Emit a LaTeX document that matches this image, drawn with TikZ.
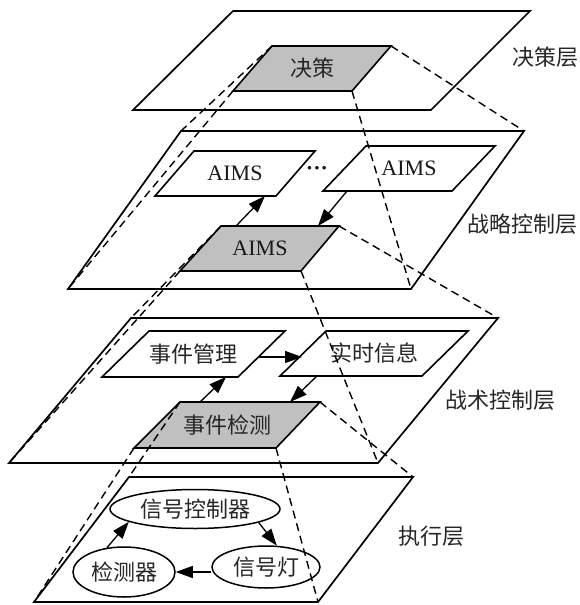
\documentclass[tikz,border=0pt]{standalone}
\usepackage{fontspec}
\setmainfont{Liberation Serif}
\newfontfamily\cjk{Noto Sans CJK SC}
\usetikzlibrary{arrows.meta,shapes.geometric}
\definecolor{boxgray}{RGB}{192,192,192}
\begin{document}
\begin{tikzpicture}[x=1pt,y=-1pt,
  plane/.style={line width=1.7pt, line join=miter},
  pbox/.style={line width=1.6pt, fill=white},
  gbox/.style={line width=1.6pt, fill=boxgray},
  proj/.style={dash pattern=on 8pt off 5pt, line width=1.4pt},
  arr/.style={line width=1.3pt, -{Triangle[length=17pt,width=12pt]}},
  lbl/.style={font=\cjk\fontsize{22}{22}\selectfont, text=black!85, inner sep=0pt},
  ltx/.style={font=\fontsize{22}{22}\selectfont, text=black!90, inner sep=0pt},
  ell/.style={ellipse, draw, line width=1.5pt, inner sep=0pt, font=\cjk\fontsize{22}{22}\selectfont, text=black!85}
]
\useasboundingbox (0,0) rectangle (579,605);

% ---------- planes ----------
\coordinate (p1tl) at (233,11);  \coordinate (p1tr) at (530,11);
\coordinate (p1br) at (431,110); \coordinate (p1bl) at (133,110);
\coordinate (p2tl) at (181,131); \coordinate (p2tr) at (524,131);
\coordinate (p2br) at (411,289); \coordinate (p2bl) at (68,289);
\coordinate (p3tl) at (131,318); \coordinate (p3tr) at (498,318);
\coordinate (p3br) at (378,463); \coordinate (p3bl) at (9,463);
\coordinate (p4tl) at (129,477); \coordinate (p4tr) at (413,477);
\coordinate (p4br) at (318,602); \coordinate (p4bl) at (34,602);
\draw[plane] (p1tl) -- (p1tr) -- (p1br) -- (p1bl) -- cycle;
\draw[plane] (p2tl) -- (p2tr) -- (p2br) -- (p2bl) -- cycle;
\draw[plane] (p3tl) -- (p3tr) -- (p3br) -- (p3bl) -- cycle;
\draw[plane] (p4tl) -- (p4tr) -- (p4br) -- (p4bl) -- cycle;

% ---------- boxes ----------
% decision
\coordinate (dtl) at (272,46);  \coordinate (dtr) at (391,46);
\coordinate (dbr) at (352,91);  \coordinate (dbl) at (233,91);
\draw[gbox] (dtl) -- (dtr) -- (dbr) -- (dbl) -- cycle;
% strategic
\coordinate (a1tl) at (194,151); \coordinate (a1tr) at (315,151);
\coordinate (a1br) at (276,196); \coordinate (a1bl) at (155,196);
\draw[pbox] (a1tl) -- (a1tr) -- (a1br) -- (a1bl) -- cycle;
\coordinate (a2tl) at (366,146); \coordinate (a2tr) at (495,146);
\coordinate (a2br) at (452,191); \coordinate (a2bl) at (323,191);
\draw[pbox] (a2tl) -- (a2tr) -- (a2br) -- (a2bl) -- cycle;
\coordinate (agtl) at (221,226); \coordinate (agtr) at (339,226);
\coordinate (agbr) at (301,271); \coordinate (agbl) at (180,271);
\draw[gbox] (agtl) -- (agtr) -- (agbr) -- (agbl) -- cycle;
% tactical
\coordinate (mtl) at (149,331); \coordinate (mtr) at (285,331);
\coordinate (mbr) at (238,377); \coordinate (mbl) at (102,377);
\draw[pbox] (mtl) -- (mtr) -- (mbr) -- (mbl) -- cycle;
\coordinate (rtl) at (326,331); \coordinate (rtr) at (468,331);
\coordinate (rbr) at (422,376); \coordinate (rbl) at (280,376);
\draw[pbox] (rtl) -- (rtr) -- (rbr) -- (rbl) -- cycle;
\coordinate (etl) at (180,402); \coordinate (etr) at (320,402);
\coordinate (ebr) at (276,448); \coordinate (ebl) at (134,448);
\draw[gbox] (etl) -- (etr) -- (ebr) -- (ebl) -- cycle;

% ---------- texts ----------
\node[lbl] (tdec) at (312,68.5) {决策};
\node[ltx] (ta1) at (235,173.5) {AIMS};
\node[ltx] (ta2) at (409,168.5) {AIMS};
\node[ltx] (tag) at (260,248.5) {AIMS};
\node[ltx] (tdots) at (317,171) {\textbf{···}};
\node[lbl] (tm) at (193.5,354) {事件管理};
\node[lbl] (tr) at (374,353.5) {实时信息};
\node[lbl] (te) at (227.5,425) {事件检测};

% ---------- ellipses ----------
\node[ell, minimum width=170pt, minimum height=39pt] (ctrl) at (195,509) {信号控制器};
\node[ell, minimum width=102pt, minimum height=50pt] (det) at (124,572) {检测器};
\node[ell, minimum width=108pt, minimum height=42pt] (lamp) at (266,567) {信号灯};

% ---------- projection lines ----------
\draw[proj] (dtl) -- (p2tl);
\draw[proj] (dtr) -- (p2tr);
\draw[proj] (dbr) -- (p2br);
\draw[proj] (dbl) -- (p2bl);
\draw[proj] (agtl) -- (p3tl);
\draw[proj] (agtr) -- (p3tr);
\draw[proj] (agbr) -- (p3br);
\draw[proj] (agbl) -- (p3bl);
\draw[proj] (etl) -- (p4tl);
\draw[proj] (etr) -- (p4tr);
\draw[proj] (ebr) -- (p4br);
\draw[proj] (ebl) -- (p4bl);

% ---------- arrows ----------
\coordinate (s1) at (236,226); \coordinate (e1) at (265,196);
\coordinate (s2) at (347,191); \coordinate (e2) at (318,226);
\coordinate (s3) at (259,357); \coordinate (e3) at (302,357);
\coordinate (s4) at (200,402); \coordinate (e4) at (226,377);
\coordinate (s5) at (317,376); \coordinate (e5) at (290,402);
\draw[arr] (s1) -- (e1);
\draw[arr] (s2) -- (e2);
\draw[arr] (s3) -- (e3);
\draw[arr] (s4) -- (e4);
\draw[arr] (s5) -- (e5);
\draw[arr] (det.125) -- (ctrl.191);
\draw[arr] (ctrl.348) -- (lamp.63);
\draw[arr] (det.east -| lamp.west) -- (det.east);

% ---------- layer labels ----------
\node[lbl] (l1) at (545,57) {决策层};
\node[lbl] (l2) at (522,224) {战略控制层};
\node[lbl] (l3) at (500,400) {战术控制层};
\node[lbl] (l4) at (431,536) {执行层};
\end{tikzpicture}
\end{document}
